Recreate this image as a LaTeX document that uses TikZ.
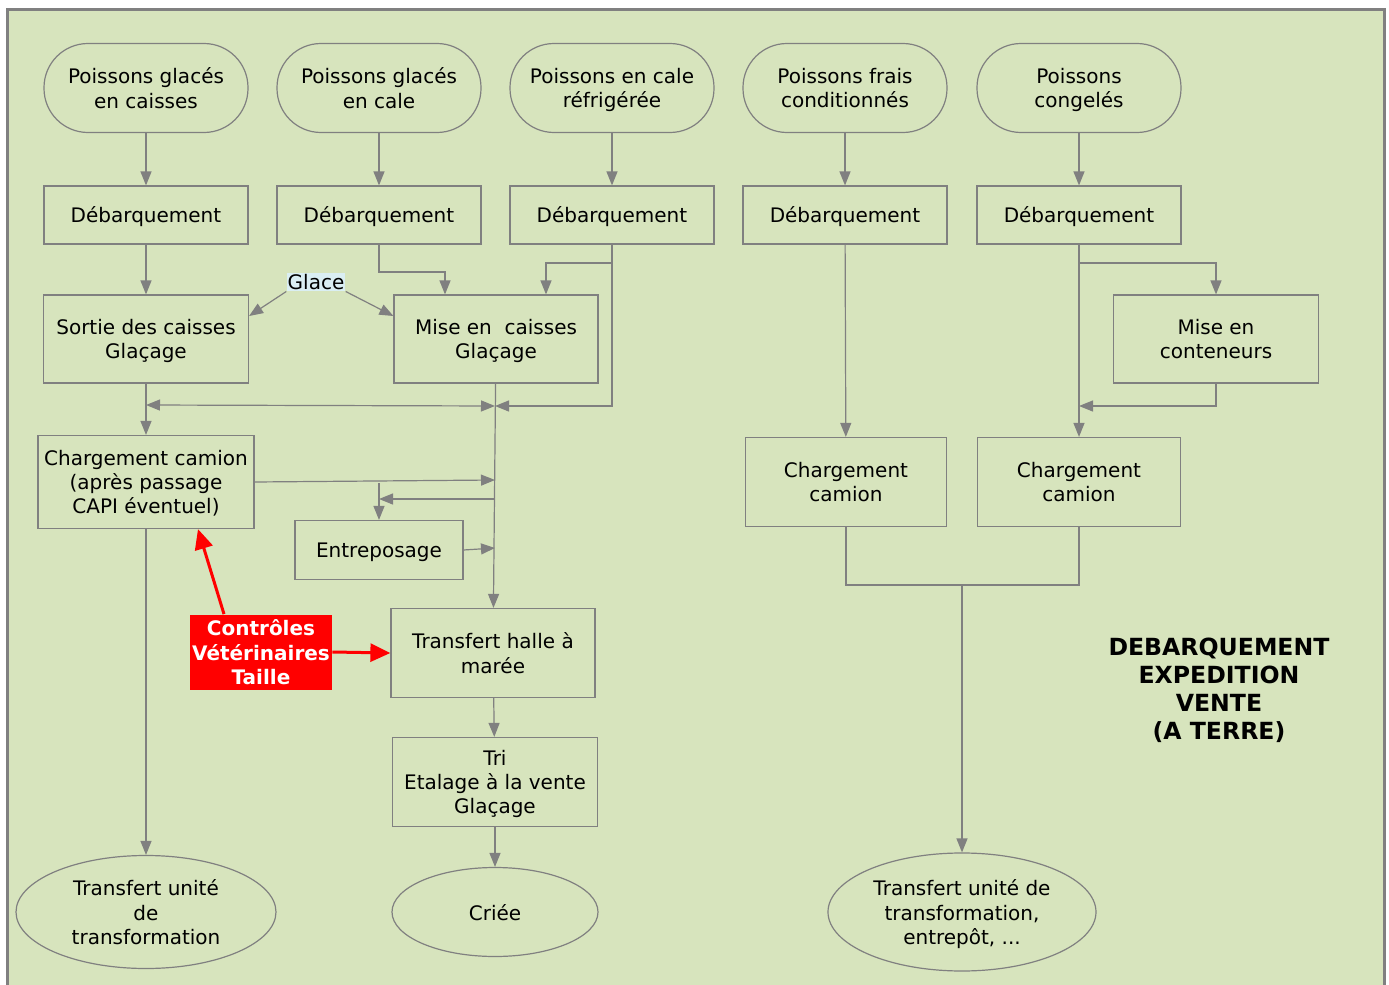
\documentclass[tikz,border=0pt]{standalone}
\usepackage{fontspec}
\setmainfont{DejaVu Sans}
\usetikzlibrary{arrows.meta,shapes.geometric}
\definecolor{fond}{HTML}{D7E4BD}
\definecolor{trait}{HTML}{808080}
\definecolor{glace}{HTML}{DAEEF3}
\begin{document}
\begin{tikzpicture}[x=.5pt,y=-.5pt,
  every node/.style={font=\fontsize{10}{12.15}\selectfont, align=center, inner sep=1pt, text depth=0pt},
  depart/.style={draw=trait, line width=.6pt, rounded corners=22pt, minimum width=102pt, minimum height=44.5pt},
  boite/.style={draw=trait, line width=.6pt, minimum width=102pt, minimum height=44.5pt},
  fin/.style={draw=trait, line width=.6pt, ellipse, inner sep=0pt},
  ligne/.style={draw=trait, line width=.6pt},
  fleche/.style={ligne, -{Triangle[length=7pt,width=5.5pt]}},
  fleche2/.style={ligne, {Triangle[length=7pt,width=5.5pt]}-{Triangle[length=7pt,width=5.5pt]}},
  rouge/.style={draw=red, line width=1.5pt, -{Triangle[length=10pt,width=9pt]}}]
  \fill[white] (0,0) rectangle (1389,985);
  \useasboundingbox (0,0) rectangle (1389,985);
  \draw[trait, line width=1.5pt, fill=fond] (7,9) rectangle (1384,1010);
  \foreach \n/\x/\lbl in {a/146/{Poissons glacés\\en caisses}, b/379/{Poissons glacés\\en cale}, c/612/{Poissons en cale\\réfrigérée}, d/845/{Poissons frais\\conditionnés}, e/1079/{Poissons\\congelés}} {
    \node[depart] (p\n) at (\x,88) {\lbl};
    \node[boite, minimum height=29pt] (d\n) at (\x,215) {Débarquement};
    \draw[fleche] (p\n) -- (d\n);
  }
  \node[boite, minimum width=102.5pt, minimum height=44pt] (sortie) at (146,339) {Sortie des caisses\\Glaçage};
  \node[boite, minimum height=44pt] (misec) at (496,339) {Mise en\ \ caisses\\Glaçage};
  \node[boite, minimum width=102.5pt, minimum height=44pt] (conten) at (1216,339) {Mise en\\conteneurs};
  \node[fill=glace, inner sep=.5pt, text depth=.5pt] (glace) at (316,282) {Glace};
  \node[boite, minimum width=108pt, minimum height=46.5pt] (charg) at (146,482) {Chargement camion\\(après passage\\CAPI éventuel)};
  \node[boite, minimum width=84pt, minimum height=29.5pt] (entrepos) at (379,550) {Entreposage};
  \node[boite] (transf) at (493,653) {Transfert halle à\\marée};
  \node[boite, minimum width=102.5pt] (tri) at (495,782) {Tri\\Etalage à la vente\\Glaçage};
  \node[fin, minimum width=103pt, minimum height=44.5pt] (criee) at (495,912) {Criée};
  \node[fin, minimum width=130pt, minimum height=56.5pt] (usineg) at (146,912) {Transfert unité\\de\\transformation};
  \node[boite, minimum width=100.5pt] (charga) at (846,482) {Chargement\\camion};
  \node[boite, minimum width=101.5pt] (chargb) at (1079,482) {Chargement\\camion};
  \node[fin, minimum width=134pt, minimum height=59pt] (usined) at (962,912) {Transfert unité de\\transformation,\\entrepôt, ...};
  \node[fill=red, text=white, font=\bfseries\fontsize{10}{12.15}\selectfont, minimum width=71pt, minimum height=37.5pt, inner sep=0pt] (ctrl) at (261,652) {Contrôles\\Vétérinaires\\Taille};
  \node[font=\bfseries\fontsize{11.8}{14}\selectfont] (titre) at (1219,689) {DEBARQUEMENT\\EXPEDITION\\VENTE\\(A TERRE)};
  \coordinate (ms) at (146,405);
  \coordinate (mc) at (495,406);
  \coordinate (kb) at (445,272);
  \coordinate (kc) at (546,263);
  \coordinate (mv1) at (495,480);
  \coordinate (mv2) at (495,499);
  \coordinate (ke) at (379,499);
  \coordinate (ke0) at (379,483);
  \coordinate (mv3) at (495,548);
  \coordinate (kd) at (1216,263);
  \coordinate (me) at (1079,406);
  \coordinate (jr) at (962,585);
  \draw[fleche] (da) -- (sortie);
  \draw[fleche] (db.south) |- (kb) -- (kb |- misec.north);
  \draw[fleche] (dc.south) |- (kc) -- (kc |- misec.north);
  \draw[fleche] (dc.south) |- (mc);
  \draw[fleche] (glace.south west) -- ([yshift=11.5pt]sortie.east);
  \draw[fleche] (glace.south east) -- ([yshift=11.5pt]misec.west);
  \draw[ligne] (sortie) -- (ms);
  \draw[fleche] (ms) -- (charg);
  \draw[fleche2] (ms) -- (mc);
  \draw[fleche] (misec) -- (transf);
  \draw[fleche] (charg.east) -- (mv1);
  \draw[fleche] (mv2) -- (ke);
  \draw[fleche] (ke0) -- (ke0 |- entrepos.north);
  \draw[fleche] (entrepos.east) -- (mv3);
  \draw[fleche] (transf) -- (tri);
  \draw[fleche] (tri) -- (criee);
  \draw[fleche] (charg) -- (usineg);
  \draw[fleche] (dd) -- (charga);
  \draw[fleche] (de) -- (chargb);
  \draw[fleche] (de.south) |- (kd) -- (conten);
  \draw[fleche] (conten.south) |- (me);
  \draw[ligne] (charga.south) |- (jr);
  \draw[ligne] (chargb.south) |- (jr);
  \draw[fleche] (jr) -- (usined);
  \draw[rouge] ([xshift=-18.5pt]ctrl.north) -- ([xshift=26pt]charg.south);
  \draw[rouge] (ctrl.east) -- (transf.west);
\end{tikzpicture}
\end{document}
